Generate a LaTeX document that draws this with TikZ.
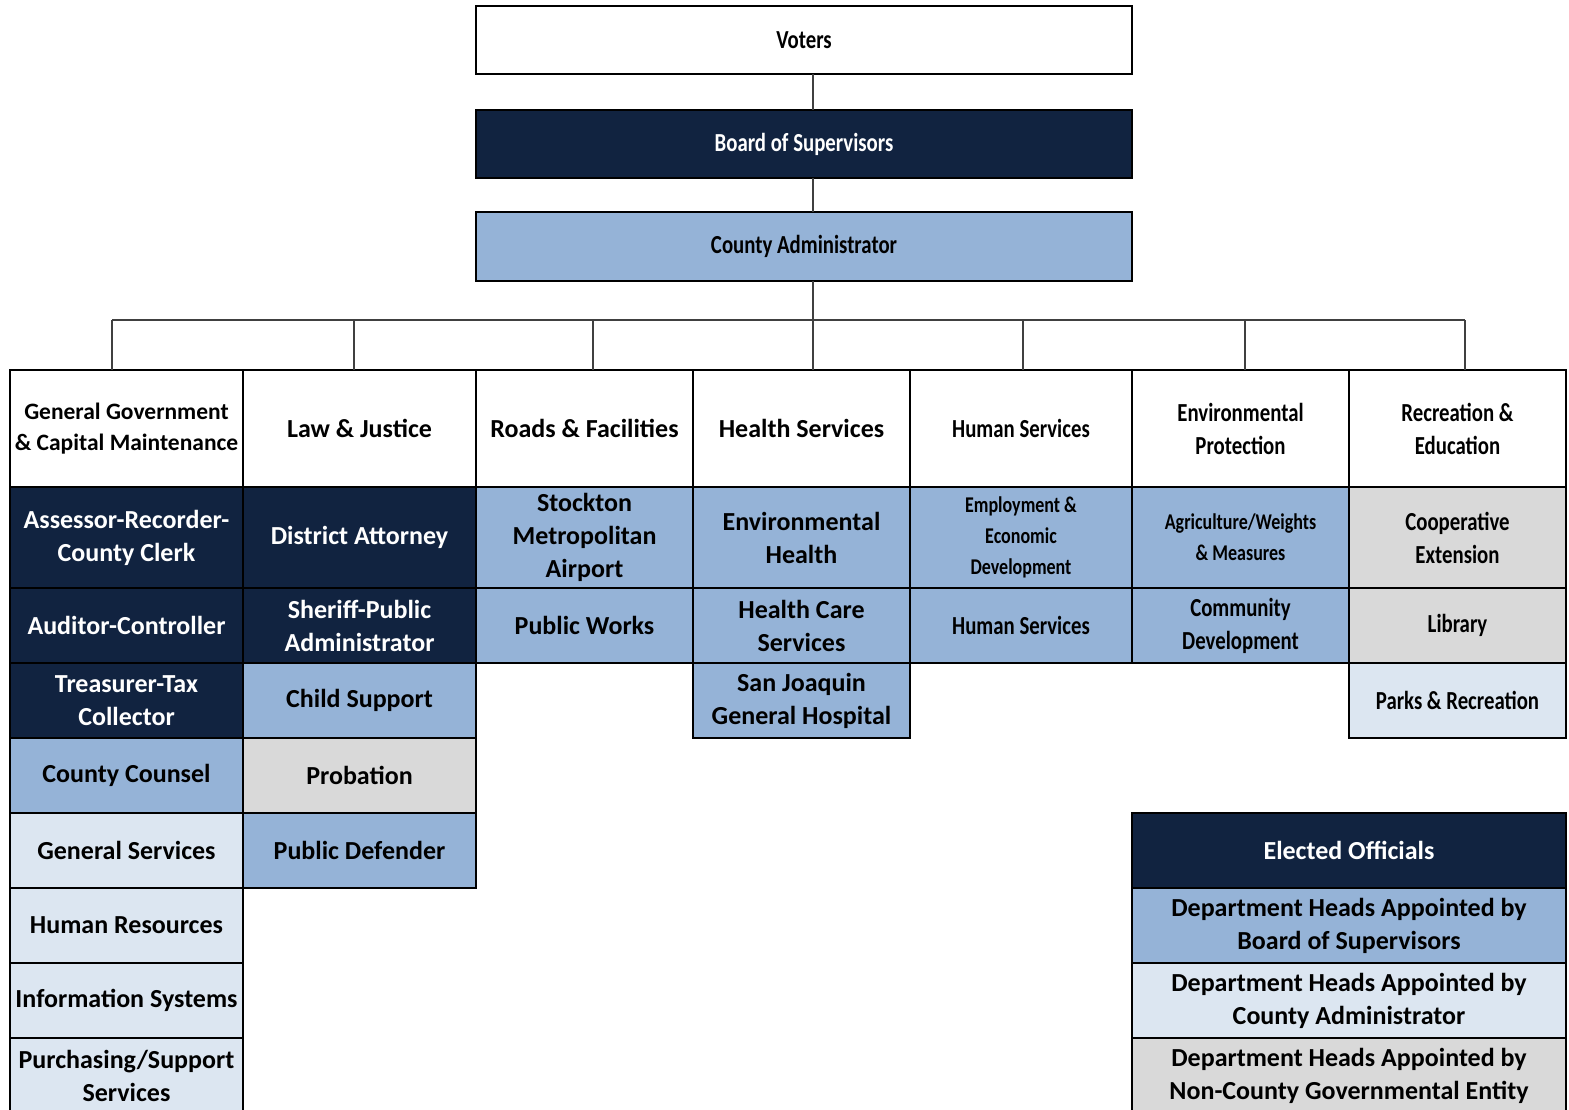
\documentclass[tikz,border=0pt]{standalone}
\usepackage{fontspec}
\setmainfont{Carlito}
\newfontfamily\narrowfam[FakeStretch=0.8]{Carlito}
\usetikzlibrary{positioning}

\definecolor{navyfill}{RGB}{17,35,64}
\definecolor{midfill}{RGB}{149,179,215}
\definecolor{palefill}{RGB}{220,230,241}
\definecolor{greyfill}{RGB}{217,217,217}

\tikzset{
  cell/.style={draw=black, line width=2.8pt, inner sep=1pt, outer sep=0pt, align=center,
    font=\bfseries\fontsize{26}{33}\selectfont, minimum height=75pt},
  narrow/.style={font=\narrowfam\bfseries\fontsize{26}{33}\selectfont},
  small/.style={font=\bfseries\fontsize{23.5}{31}\selectfont},
  smallnarrow/.style={font=\narrowfam\bfseries\fontsize{22.5}{31}\selectfont},
  head/.style={cell, fill=white, minimum height=117pt},
  tall/.style={minimum height=101pt},
  navy/.style={fill=navyfill, text=white},
  mid/.style={fill=midfill},
  pale/.style={fill=palefill},
  grey/.style={fill=greyfill},
  link/.style={draw=black!75, line width=1.3pt},
}

\begin{document}
\begin{tikzpicture}[x=1pt, y=-1pt]
    \useasboundingbox (0,0) rectangle (1569,1109);

    % top of the chart
    \node[cell, narrow, fill=white, minimum width=656pt, minimum height=68pt, anchor=north west] (voters) at (476,6) {Voters};
    \node[cell, narrow, navy, minimum width=656pt, minimum height=68pt, anchor=north west] (board) at (476,110) {Board of Supervisors};
    \node[cell, narrow, mid, minimum width=656pt, minimum height=69pt, anchor=north west] (admin) at (476,212) {County Administrator};

    % service area headers
    \node[head, small, minimum width=233pt, anchor=north west] (h1) at (10,370) {General Government\\\& Capital Maintenance};
    \node[head, minimum width=233pt, right=0pt of h1] (h2) {Law \& Justice};
    \node[head, minimum width=217pt, right=0pt of h2] (h3) {Roads \& Facilities};
    \node[head, minimum width=217pt, right=0pt of h3] (h4) {Health Services};
    \node[head, narrow, minimum width=222pt, right=0pt of h4] (h5) {Human Services};
    \node[head, narrow, minimum width=217pt, right=0pt of h5] (h6) {Environmental\\Protection};
    \node[head, narrow, minimum width=217pt, right=0pt of h6] (h7) {Recreation \&\\Education};

    % general government
    \node[cell, tall, navy, minimum width=233pt, below=0pt of h1] (gg1) {Assessor-Recorder-\\County Clerk};
    \node[cell, navy, minimum width=233pt, below=0pt of gg1] (gg2) {Auditor-Controller};
    \node[cell, navy, minimum width=233pt, below=0pt of gg2] (gg3) {Treasurer-Tax\\Collector};
    \node[cell, mid, minimum width=233pt, below=0pt of gg3] (gg4) {County Counsel};
    \node[cell, pale, minimum width=233pt, below=0pt of gg4] (gg5) {General Services};
    \node[cell, pale, minimum width=233pt, below=0pt of gg5] (gg6) {Human Resources};
    \node[cell, pale, minimum width=233pt, below=0pt of gg6] (gg7) {Information Systems};
    \node[cell, pale, minimum width=233pt, below=0pt of gg7] (gg8) {Purchasing/Support\\Services};

    % law and justice
    \node[cell, tall, navy, minimum width=233pt, below=0pt of h2] (lj1) {District Attorney};
    \node[cell, navy, minimum width=233pt, below=0pt of lj1] (lj2) {Sheriff-Public\\Administrator};
    \node[cell, mid, minimum width=233pt, below=0pt of lj2] (lj3) {Child Support};
    \node[cell, grey, minimum width=233pt, below=0pt of lj3] (lj4) {Probation};
    \node[cell, mid, minimum width=233pt, below=0pt of lj4] (lj5) {Public Defender};

    % roads and facilities
    \node[cell, tall, mid, minimum width=217pt, below=0pt of h3] (rf1) {Stockton\\Metropolitan\\Airport};
    \node[cell, mid, minimum width=217pt, below=0pt of rf1] (rf2) {Public Works};

    % health
    \node[cell, tall, mid, minimum width=217pt, below=0pt of h4] (hs1) {Environmental\\Health};
    \node[cell, mid, minimum width=217pt, below=0pt of hs1] (hs2) {Health Care\\Services};
    \node[cell, mid, minimum width=217pt, below=0pt of hs2] (hs3) {San Joaquin\\General Hospital};

    % human services
    \node[cell, tall, smallnarrow, mid, minimum width=222pt, below=0pt of h5] (hu1) {Employment \&\\Economic\\Development};
    \node[cell, narrow, mid, minimum width=222pt, below=0pt of hu1] (hu2) {Human Services};

    % environmental protection
    \node[cell, tall, smallnarrow, mid, minimum width=217pt, below=0pt of h6] (ep1) {Agriculture/Weights\\\& Measures};
    \node[cell, narrow, mid, minimum width=217pt, below=0pt of ep1] (ep2) {Community\\Development};

    % recreation and education
    \node[cell, tall, narrow, grey, minimum width=217pt, below=0pt of h7] (re1) {Cooperative\\Extension};
    \node[cell, narrow, grey, minimum width=217pt, below=0pt of re1] (re2) {Library};
    \node[cell, narrow, pale, minimum width=217pt, below=0pt of re2] (re3) {Parks \& Recreation};

    % key
    \node[cell, navy, minimum width=434pt, anchor=north west] (key1) at (1132,813) {Elected Officials};
    \node[cell, mid, minimum width=434pt, below=0pt of key1] (key2) {Department Heads Appointed by\\Board of Supervisors};
    \node[cell, pale, minimum width=434pt, below=0pt of key2] (key3) {Department Heads Appointed by\\County Administrator};
    \node[cell, grey, minimum width=434pt, below=0pt of key3] (key4) {Department Heads Appointed by\\Non-County Governmental Entity};

    % reporting lines
    \coordinate (bus) at (813,320);
    \draw[link] (voters.south -| bus) -- (board.north -| bus);
    \draw[link] (board.south -| bus) -- (admin.north -| bus);
    \draw[link] (admin.south -| bus) -- (bus);
    \draw[link] ([xshift=-14.5pt]h1.north |- bus) -- ([xshift=7.5pt]h7.north |- bus);
    \foreach \h/\dx in {h1/-14.5, h2/-5.5, h3/8.5, h4/11.5, h5/2, h6/4.5, h7/7.5}
      \draw[link] ([xshift=\dx pt]\h.north |- bus) -- ([xshift=\dx pt]\h.north);
\end{tikzpicture}
\end{document}
